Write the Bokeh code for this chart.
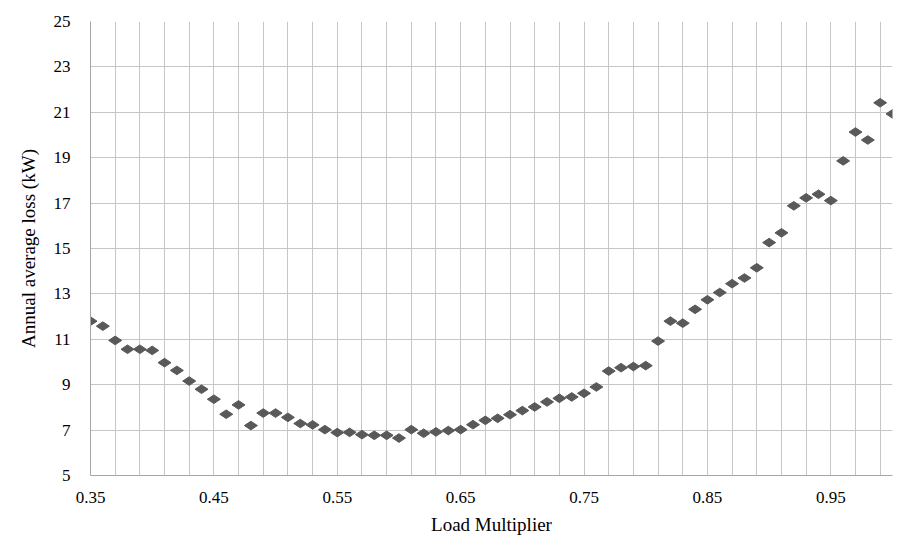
import numpy as np
from bokeh.plotting import figure
from bokeh.models import FixedTicker, Range1d
from bokeh.embed import file_html
from bokeh.resources import INLINE

load_multiplier = [0.35, 0.36, 0.37, 0.38, 0.39, 0.40, 0.41, 0.42, 0.43, 0.44,
                   0.45, 0.46, 0.47, 0.48, 0.49, 0.50, 0.51, 0.52, 0.53, 0.54,
                   0.55, 0.56, 0.57, 0.58, 0.59, 0.60, 0.61, 0.62, 0.63, 0.64,
                   0.65, 0.66, 0.67, 0.68, 0.69, 0.70, 0.71, 0.72, 0.73, 0.74,
                   0.75, 0.76, 0.77, 0.78, 0.79, 0.80, 0.81, 0.82, 0.83, 0.84,
                   0.85, 0.86, 0.87, 0.88, 0.89, 0.90, 0.91, 0.92, 0.93, 0.94,
                   0.95, 0.96, 0.97, 0.98, 0.99, 1.00]
annual_loss = [11.80, 11.58, 10.95, 10.56, 10.56, 10.51, 9.97, 9.63, 9.16, 8.80,
               8.36, 7.70, 8.11, 7.20, 7.75, 7.75, 7.56, 7.29, 7.23, 7.02,
               6.89, 6.90, 6.80, 6.77, 6.77, 6.65, 7.02, 6.86, 6.92, 6.98,
               7.02, 7.24, 7.43, 7.52, 7.68, 7.86, 8.02, 8.24, 8.40, 8.46,
               8.62, 8.90, 9.60, 9.75, 9.80, 9.84, 10.92, 11.80, 11.71, 12.32,
               12.74, 13.06, 13.45, 13.70, 14.15, 15.26, 15.69, 16.88, 17.23, 17.39,
               17.11, 18.86, 20.13, 19.78, 21.42, 20.93]

x_tick_values = [0.35, 0.45, 0.55, 0.65, 0.75, 0.85, 0.95]
x_tick_labels = ["0.35", "0.45", "0.55", "0.65", "0.75", "0.85", "0.95"]
x_grid_values = [round(0.35 + 0.02 * i, 2) for i in range(33)]
y_tick_values = [5, 7, 9, 11, 13, 15, 17, 19, 21, 23, 25]

x_title = "Load Multiplier"
y_title = "Annual average loss (kW)"

FONT = "Liberation Serif"

p = figure(width=901, height=548, output_backend="svg", toolbar_location=None,
           x_range=Range1d(0.35, 1.0), y_range=Range1d(5, 25),
           min_border_left=90, min_border_right=9, min_border_top=21,
           min_border_bottom=73)
p.background_fill_color = "white"
p.border_fill_color = "white"
p.outline_line_color = None

p.scatter(load_multiplier, annual_loss, marker="diamond", size=13,
          angle=np.pi / 2, fill_color="#595959", line_color="#595959")

p.xaxis.ticker = FixedTicker(ticks=x_tick_values)
p.xaxis.major_label_overrides = {v: l for v, l in zip(x_tick_values, x_tick_labels)}
p.yaxis.ticker = FixedTicker(ticks=y_tick_values)
p.xgrid.ticker = FixedTicker(ticks=x_grid_values)
p.ygrid.ticker = FixedTicker(ticks=y_tick_values)

for g in (p.xgrid, p.ygrid):
    g.grid_line_color = "#c6c6c6"
    g.grid_line_width = 1

for ax in (p.xaxis, p.yaxis):
    ax.axis_line_color = "#a6a6a6"
    ax.major_tick_line_color = None
    ax.minor_tick_line_color = None
    ax.major_label_text_font = FONT
    ax.major_label_text_font_size = "17px"
    ax.major_label_text_color = "#000000"
    ax.axis_label_text_font = FONT
    ax.axis_label_text_font_size = "19px"
    ax.axis_label_text_font_style = "normal"
    ax.axis_label_text_color = "#000000"

p.xaxis.axis_label = x_title
p.yaxis.axis_label = y_title
p.xaxis.major_label_standoff = 10
p.yaxis.major_label_standoff = 14
p.xaxis.axis_label_standoff = 8
p.yaxis.axis_label_standoff = 12

open("out.html", "w").write(file_html(p, INLINE))
